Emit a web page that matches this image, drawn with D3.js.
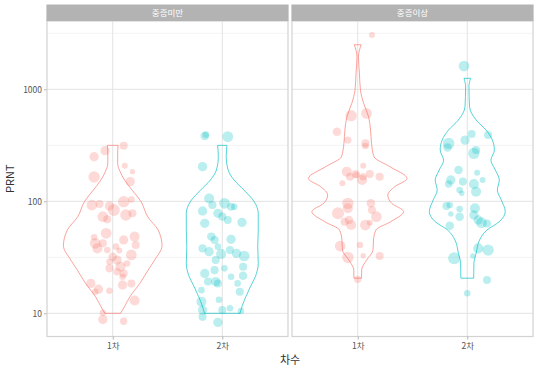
<!DOCTYPE html>
<html>
<head>
<meta charset="utf-8">
<script src="https://cdn.jsdelivr.net/npm/d3@7"></script>
<style>
  body { margin: 0; background: #fff; }
  text { font-family: "Noto Sans CJK KR", "Noto Sans", sans-serif; }
</style>
</head>
<body>
<div id="chart"></div>
<script>
// facet panels and x categories
var panels = ["중증미만", "중증이상"];
var rounds = ["1차", "2차"];
var colors = ["#F8766D", "#00BFC4"];
var yTicks = [10, 100, 1000];
var yMinor = [31.62, 316.2, 3162];

// jittered points: [PRNT, jitter (category units), size]
var ptsLow1 = [[314,0.10,4.5],[283,-0.07,6],[250,-0.17,6],[208,0.11,2.5],[184,0.18,2],[165,-0.17,9],[150,0.16,6],
  [92.7,-0.19,8],[94.6,-0.12,4.5],[90.8,-0.03,6],[83.6,0.01,10],[99.3,0.10,9],[104,0.17,3],[72.9,-0.09,8],[69,-0.05,4.5],
  [75.5,0.12,9],[78.2,0.18,4.5],[51.8,-0.06,8],[47.7,-0.17,3],[42.2,-0.16,8],[38,-0.14,7],[42.2,-0.09,4.5],[45.2,0.10,6],
  [48.4,0.20,7],[40.8,0.21,4.5],[36.3,0.06,2.5],[36.7,-0.05,3],[32,0.0,5],[28.9,-0.03,3],[29.9,0.04,6],[33.2,0.17,8],
  [27.9,0.13,3],[25.2,-0.03,4.5],[26.1,0.07,7],[22.7,0.10,4.5],[21.2,0.09,3],[23.5,0.04,3.8],[18.5,-0.20,6],[16.4,-0.13,6],
  [15.9,-0.03,3],[17.9,0.09,6],[18.5,0.17,4.5],[13,0.20,7],[10.1,-0.09,3],[8.8,-0.09,6],[8.5,0.10,3.8],[15.6,-0.16,3],[39.4,0.03,3]];
var ptsLow2 = [[383,-0.16,5],[394,-0.15,3],[378,0.05,8],[204,-0.18,6],[106,-0.12,7],[92.7,-0.09,4.5],[82,-0.18,6],
  [78.2,-0.04,6],[73,0.0,4.5],[96,0.02,8],[89.5,0.08,4.5],[89.5,0.11,3],[68,0.05,4.5],[64.9,0.18,6],[63.6,-0.16,6],
  [48.4,-0.10,5],[45.2,-0.07,4.5],[45.8,0.08,6],[38,-0.18,4.5],[35.5,-0.12,6],[33.8,-0.01,7],[39.4,-0.04,3],[36.7,0.07,4.5],
  [34.3,0.13,6],[32.5,0.20,8],[29.9,-0.06,4.5],[25.2,0.02,3],[24.3,-0.07,4.5],[22.7,-0.16,6],[19.2,-0.13,4.5],[19.2,-0.06,6],
  [21.2,0.08,3],[26.1,0.19,4.5],[21.7,0.19,5],[16.1,-0.19,3],[18.5,0.14,3],[15.6,0.16,4.5],[13.2,-0.03,3],[12.7,-0.19,7],
  [10.7,-0.18,6],[10.7,0.0,4.5],[11.1,0.07,3],[10.5,0.17,3],[9.3,-0.18,4.5],[8.3,-0.04,6],[18.5,-0.04,4.5]];
var ptsHigh1 = [[3055,0.13,2.5],[582,-0.06,9],[610,0.08,8],[419,-0.19,5],[352,-0.09,3.8],[329,0.07,4.5],[312,0.07,3],
  [208,0.05,2.5],[184,-0.10,7],[166,-0.07,4.5],[172,-0.01,3],[155,0.04,7],[166,0.05,3.8],[175,0.11,4.5],[166,0.20,4.5],
  [145,-0.14,2.5],[95.9,-0.09,9],[86.6,-0.09,7],[78.1,-0.18,10],[68.1,-0.08,5],[61.4,-0.06,7],[95.9,0.12,5],[83.6,0.13,4.5],
  [72.9,0.17,8],[61.4,0.07,8],[64.4,0.11,2.5],[39.9,-0.16,8],[40.7,0.02,3],[31.6,-0.09,9],[32.7,0.05,2],[32.5,0.20,4.5],
  [20.1,0.0,3.8],[65.8,-0.12,4.5],[175,-0.02,4.5]];
var ptsHigh2 = [[1614,-0.03,8],[329,-0.17,9],[303,-0.18,5],[352,-0.02,6],[399,0.04,4.5],[268,0.06,9],[287,0.08,4.5],
  [391,0.19,4.5],[190,-0.08,5],[155,-0.15,6],[143,-0.17,3.8],[150,-0.04,4.5],[126,-0.07,3],[118,-0.05,2],[143,0.06,7],
  [122,0.08,7],[180,0.09,2.5],[155,0.14,2.5],[90.8,-0.19,4.5],[92.7,-0.16,3],[85.3,-0.07,3],[77,-0.15,2],[72.9,-0.07,5],
  [86.6,0.07,7],[75.5,0.06,6],[68.1,0.10,6],[64.4,0.13,8],[63.5,0.18,4.5],[60.5,-0.16,5],[38,0.10,7],[36.7,0.19,9],
  [31,-0.12,10],[32.5,0.05,2],[19.8,0.18,4.5],[15.1,0.0,3]];

// violin outlines: [PRNT, relative half width]
var vioLow1 = [[316,0.11],[270,0.10],[218,0.10],[184,0.15],[155,0.24],[125,0.40],[100,0.57],[72.8,0.71],[55.5,0.92],
  [40.2,1.0],[29.9,0.85],[24.4,0.72],[18.5,0.55],[14.1,0.35],[11.5,0.24],[10,0.16]];
var vioLow2 = [[316,0.095],[251,0.08],[190,0.12],[155,0.24],[126,0.44],[99,0.65],[78,0.73],[55.5,0.73],[39.4,0.72],
  [27.9,0.73],[21.2,0.67],[17.3,0.57],[14.1,0.48],[11.5,0.40],[10,0.36]];
var vioHigh1 = [[2500,0.07],[1954,0.015],[1380,0.035],[986,0.055],[750,0.12],[569,0.22],[433,0.26],[329,0.28],[250,0.33],
  [204,0.65],[160,1.0],[135,0.75],[114,0.61],[96,0.69],[81,0.93],[65.8,0.67],[55.5,0.37],[45.2,0.32],[36.7,0.31],
  [29.9,0.18],[24.4,0.08],[20.6,0.077]];
var vioHigh2 = [[1254,0.067],[1057,0.034],[700,0.046],[532,0.18],[433,0.38],[352,0.51],[287,0.55],[233,0.48],[190,0.57],
  [155,0.65],[126,0.61],[103,0.69],[81,0.77],[65.8,0.65],[55.5,0.40],[45.2,0.25],[34.4,0.18],[28,0.135],[20.6,0.13]];

var points = [[ptsLow1, ptsLow2], [ptsHigh1, ptsHigh2]];
var violins = [[vioLow1, vioLow2], [vioHigh1, vioHigh2]];

var W = 543, H = 371;
var panelLeft = [47, 292], panelW = 241;
var stripTop = 4.5, panelTop = 21, panelBottom = 336.5;

var svg = d3.select("#chart").append("svg").attr("width", W).attr("height", H);

var y = d3.scaleLog().domain([6.21, 4074]).range([panelBottom, panelTop]);
var size = d3.scaleSqrt().domain([0, 10]).range([0, 6]);

// y axis (left panel only)
var yAxis = svg.append("g")
  .attr("transform", "translate(" + panelLeft[0] + ",0)")
  .call(d3.axisLeft(y).tickValues(yTicks).tickFormat(d3.format("d")).tickSize(3).tickPadding(2));
yAxis.select(".domain").remove();
yAxis.selectAll("line").attr("stroke", "#b3b3b3");
yAxis.selectAll("text").attr("fill", "#555").style("font-size", "8.5px");

panels.forEach(function(p, pi) {
  var x0 = panelLeft[pi];
  var x = d3.scalePoint().domain(rounds).range([0, panelW]).padding(0.6);
  var step = x.step();
  var wid = d3.scaleLinear().domain([0, 1]).range([0, 0.45 * step]);
  var g = svg.append("g").attr("transform", "translate(" + x0 + ",0)");

  // grid
  g.selectAll(".minor").data(yMinor).enter().append("line")
    .attr("x1", 0).attr("x2", panelW)
    .attr("y1", function(d) { return y(d); }).attr("y2", function(d) { return y(d); })
    .attr("stroke", "#efefef").attr("stroke-width", 0.7);
  g.selectAll(".major").data(yTicks).enter().append("line")
    .attr("x1", 0).attr("x2", panelW)
    .attr("y1", function(d) { return y(d); }).attr("y2", function(d) { return y(d); })
    .attr("stroke", "#e3e3e3").attr("stroke-width", 1);
  g.selectAll(".vgrid").data(rounds).enter().append("line")
    .attr("x1", function(d) { return x(d); }).attr("x2", function(d) { return x(d); })
    .attr("y1", panelTop).attr("y2", panelBottom)
    .attr("stroke", "#e3e3e3").attr("stroke-width", 1);

  // violins
  rounds.forEach(function(r, ri) {
    var cx = x(r);
    var area = d3.area()
      .y(function(d) { return y(d[0]); })
      .x0(function(d) { return cx - wid(d[1]); })
      .x1(function(d) { return cx + wid(d[1]); })
      .curve(d3.curveMonotoneY);
    g.append("path")
      .datum(violins[pi][ri])
      .attr("d", area)
      .attr("fill", "none")
      .attr("stroke", colors[ri])
      .attr("stroke-opacity", 0.75)
      .attr("stroke-width", 0.9);
  });

  // jittered points
  rounds.forEach(function(r, ri) {
    g.selectAll(".pt" + ri).data(points[pi][ri]).enter().append("circle")
      .attr("cx", function(d) { return x(r) + d[1] * step; })
      .attr("cy", function(d) { return y(d[0]); })
      .attr("r", function(d) { return size(d[2]); })
      .attr("fill", colors[ri])
      .attr("fill-opacity", 0.27);
  });

  // panel border
  g.append("rect")
    .attr("x", 0).attr("y", panelTop).attr("width", panelW).attr("height", panelBottom - panelTop)
    .attr("fill", "none").attr("stroke", "#d2d2d2").attr("stroke-width", 1.2);

  // strip
  g.append("rect")
    .attr("x", -0.6).attr("y", stripTop).attr("width", panelW + 1.2).attr("height", panelTop - stripTop)
    .attr("fill", "#b3b3b3");
  g.append("text")
    .attr("x", panelW / 2).attr("y", (stripTop + panelTop) / 2)
    .attr("dy", "0.35em").attr("text-anchor", "middle")
    .attr("fill", "#fff").style("font-size", "8.5px")
    .text(p);

  // x axis
  var xAxis = g.append("g")
    .attr("transform", "translate(0," + panelBottom + ")")
    .call(d3.axisBottom(x).tickSize(3).tickPadding(3));
  xAxis.select(".domain").remove();
  xAxis.selectAll("line").attr("stroke", "#b3b3b3");
  xAxis.selectAll("text").attr("fill", "#555").style("font-size", "8.5px");
});

// axis titles
svg.append("text")
  .attr("transform", "translate(14," + (panelTop + panelBottom) / 2 + ") rotate(-90)")
  .attr("text-anchor", "middle")
  .attr("fill", "#333").style("font-size", "11px")
  .text("PRNT");
svg.append("text")
  .attr("x", (panelLeft[0] + panelLeft[1] + panelW) / 2).attr("y", 364)
  .attr("text-anchor", "middle")
  .attr("fill", "#333").style("font-size", "11px")
  .text("차수");
</script>
</body>
</html>
